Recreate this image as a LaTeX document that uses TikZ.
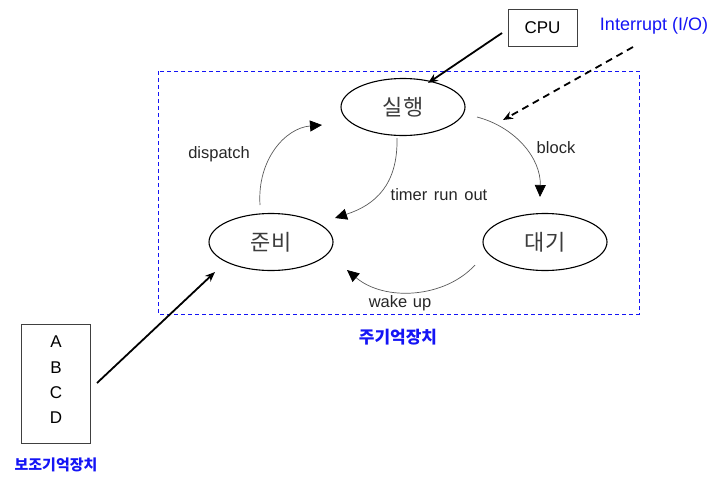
\documentclass[tikz,border=0pt]{standalone}
\usepackage{fontspec}
\setmainfont{Liberation Sans}
\newfontfamily\kr{Noto Sans CJK KR}
\usetikzlibrary{shapes.geometric,arrows.meta}
\definecolor{memblue}{RGB}{20,20,245}
\definecolor{arcgray}{RGB}{90,90,90}
\definecolor{txtgray}{RGB}{60,60,60}
\tikzset{
  state/.style={ellipse,draw=black,line width=1.1pt,minimum width=124pt,minimum height=57pt,inner sep=0pt,font=\kr\fontsize{22}{26}\selectfont,text=txtgray},
  boxnode/.style={draw=black!75,line width=0.8pt,inner sep=0pt},
  trans/.style={draw=arcgray,line width=0.7pt,-{Triangle[length=12pt,width=11pt,color=black]}},
  heavy/.style={draw=black,line width=1.8pt,-{Stealth[length=10pt,width=8pt]}},
  lbl/.style={font=\fontsize{16.5}{19}\selectfont,text=black!85},
  bluelbl/.style={font=\kr\bfseries\fontsize{15}{18}\selectfont,text=memblue},
}
\begin{document}
\begin{tikzpicture}[x=1pt,y=-1pt]
\useasboundingbox (0,0) rectangle (713,488);
% main memory frame
\draw[memblue,line width=0.8pt,dash pattern=on 4pt off 3pt] (158,71) rectangle (639,314);
\node[bluelbl,font=\kr\bfseries\fontsize{17}{20}\selectfont] (mainmem) at (398,337) {주기억장치};
% states
\node[state] (run) at (403,107) {실행};
\node[state] (ready) at (271,242) {준비};
\node[state] (wait) at (545,242) {대기};
% CPU
\node[boxnode,minimum width=69pt,minimum height=37pt,font=\fontsize{17}{20}\selectfont] (cpu) at (542.5,27.5) {CPU};
\node[font=\fontsize{18}{21}\selectfont,text=memblue] (intr) at (654,26) {Interrupt (I/O)};
% secondary storage
\node[boxnode,minimum width=69pt,minimum height=119pt] (disk) at (55.5,383.5) {};
\foreach \t/\yy in {A/342,B/367.5,C/393,D/418}
  \node[font=\fontsize{17}{20}\selectfont] (disk\t) at (56,\yy) {\t};
\node[bluelbl] (sublbl) at (56,465) {보조기억장치};
% free ends
\coordinate (cpuA) at (502,33);
\coordinate (cpuB) at (428,83);
\coordinate (intA) at (633,47);
\coordinate (intB) at (503,120);
\coordinate (diskA) at (97,383);
\coordinate (diskB) at (215,272);
\coordinate (dispA) at (260,205);
\coordinate (dispB) at (322,125);
\coordinate (blkA) at (477,117);
\coordinate (blkB) at (540,197);
\coordinate (tmrA) at (397,138);
\coordinate (tmrB) at (335,218);
\coordinate (wakA) at (475,265);
\coordinate (wakB) at (347,270);
% connectors
\draw[heavy] (cpuA) -- (cpuB);
\draw[heavy,dash pattern=on 7pt off 5pt] (intA) -- (intB);
\draw[heavy] (diskA) -- (diskB);
\draw[trans] (dispA) .. controls (257,160) and (285,128) .. (dispB);
\draw[trans] (blkA) .. controls (515,127) and (541,158) .. (blkB);
\draw[trans] (tmrA) .. controls (398,185) and (375,205) .. (tmrB);
\draw[trans] (wakA) .. controls (445,298) and (385,302) .. (wakB);
% labels
\node[lbl] (ldisp) at (219,154) {dispatch};
\node[lbl] (lblk) at (556,148) {block};
\node[lbl] (ltmr) at (439,195) {timer\hspace{2pt} run\hspace{2pt} out};
\node[lbl] (lwak) at (400,303) {wake\hspace{1pt} up};
\end{tikzpicture}
\end{document}
